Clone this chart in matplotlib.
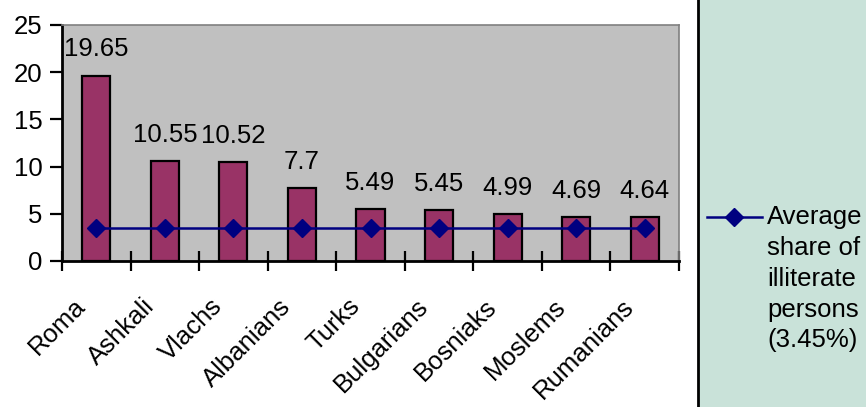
import matplotlib
matplotlib.use("Agg")
import matplotlib.pyplot as plt
from matplotlib.patches import Rectangle
from matplotlib.lines import Line2D
from matplotlib.transforms import ScaledTranslation
import numpy as np

plt.rcParams['font.family'] = ['Liberation Sans', 'DejaVu Sans']

categories = ["Roma", "Ashkali", "Vlachs", "Albanians", "Turks", "Bulgarians",
              "Bosniaks", "Moslems", "Rumanians"]
values = [19.65, 10.55, 10.52, 7.7, 5.49, 5.45, 4.99, 4.69, 4.64]
value_labels = ["19.65", "10.55", "10.52", "7.7", "5.49", "5.45", "4.99", "4.69", "4.64"]
average = 3.45
legend_label = "Average\nshare of\nilliterate\npersons\n(3.45%)"
yticks = [0, 5, 10, 15, 20, 25]

W, H = 866, 407
FS = 18.5
fig = plt.figure(figsize=(W / 100, H / 100), dpi=100)
fig.patch.set_facecolor('white')

# legend panel
panel = Rectangle((698 / W, -0.01), 1.0, 1.02, transform=fig.transFigure,
                  facecolor='#c9e2d9', edgecolor='black', linewidth=2, zorder=0)
fig.add_artist(panel)

ax = fig.add_axes([62 / W, 1 - 261 / H, (679 - 62) / W, (261 - 25) / H])
ax.set_facecolor('#c0c0c0')
x = np.arange(len(categories))
ax.bar(x, values, width=0.41, color='#993366', edgecolor='black', linewidth=1.6, zorder=2)
ax.plot(x, [average] * len(x), color='#000080', linewidth=1.8, marker='D',
        markersize=9.5, markerfacecolor='#000080', markeredgecolor='#000080', zorder=3)

for xi, v, lab in zip(x, values, value_labels):
    ax.annotate(lab, (xi, v), xytext=(0, 13.7), textcoords='offset points',
                ha='center', va='baseline', fontsize=FS, color='black')

ax.set_xlim(-0.5, len(categories) - 0.5)
ax.set_ylim(0, 25)
ax.set_yticks(yticks)
ax.tick_params(axis='y', direction='out', length=9, width=1.6, labelsize=FS, pad=5)
ax.set_xticks(x)
ax.set_xticklabels(categories, rotation=45, ha='right', rotation_mode='anchor', fontsize=FS)
ax.tick_params(axis='x', which='major', length=0, pad=24)
shift = ScaledTranslation(-23 / 100, 0, fig.dpi_scale_trans)
for lbl in ax.get_xticklabels():
    lbl.set_transform(lbl.get_transform() + shift)
ax.set_xticks(np.arange(-0.5, len(categories)), minor=True)
ax.tick_params(axis='x', which='minor', direction='inout', length=14, width=1.6)

for s in ['left', 'bottom']:
    ax.spines[s].set_linewidth(2)
    ax.spines[s].set_color('black')
for s in ['top', 'right']:
    ax.spines[s].set_linewidth(1.2)
    ax.spines[s].set_color('#808080')

# legend entry
fig.add_artist(Line2D([707 / W, 762 / W], [1 - 216.5 / H, 1 - 216.5 / H], transform=fig.transFigure,
                      color='#000080', linewidth=1.8))
fig.add_artist(Line2D([734 / W], [1 - 216.5 / H], transform=fig.transFigure,
                      marker='D', markersize=9.5, color='#000080'))
fig.text(767 / W, 1 - 205 / H, legend_label, ha='left', va='top', fontsize=FS,
         linespacing=1.36, color='black')

fig.savefig('out.png', dpi=100, facecolor='white')
